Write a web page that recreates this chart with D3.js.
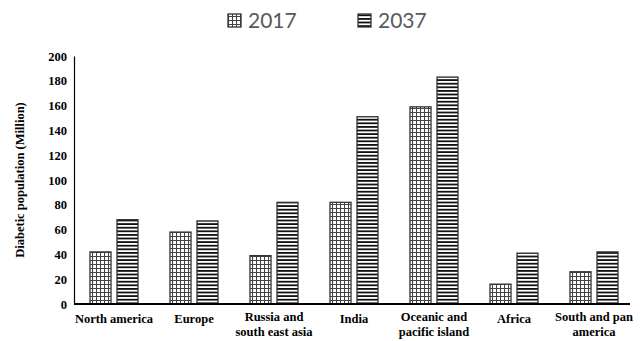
<!DOCTYPE html>
<html><head><meta charset="utf-8">
<script src="https://cdn.jsdelivr.net/npm/d3@7"></script>
<style>body{margin:0;background:#fff}svg{display:block}
.sf{font-family:"Liberation Serif","Times New Roman","Tinos","DejaVu Serif",serif;font-weight:bold;font-size:12.5px;fill:#000}
</style>
</head><body>
<svg id="c" width="640" height="341"></svg>
<script>
const categories = [["North america"],["Europe"],["Russia and","south east asia"],["India"],["Oceanic and","pacific island"],["Africa"],["South and pan","america"]];
const series = ["2017","2037"];
const values2017 = [42, 58, 39, 82, 159, 16, 26];
const values2037 = [68, 67, 82, 151, 183, 41, 42];
const yTicks = [0,20,40,60,80,100,120,140,160,180,200];
const yTitle = "Diabetic population (Million)";

const svg = d3.select("#c");
const defs = svg.append("defs");
const pg = defs.append("pattern").attr("id","grid").attr("patternUnits","userSpaceOnUse")
  .attr("width",4).attr("height",4);
pg.append("rect").attr("width",4).attr("height",4).attr("fill","#fff");
pg.append("path").attr("d","M0,0.5H4M0.5,0V4").attr("stroke","#444").attr("stroke-width",1.1);
const ph = defs.append("pattern").attr("id","hstripe").attr("patternUnits","userSpaceOnUse")
  .attr("width",4).attr("height",3.6);
ph.append("rect").attr("width",4).attr("height",3.6).attr("fill","#fff");
ph.append("rect").attr("y",0).attr("width",4).attr("height",1.8).attr("fill","#111");
const fills = {"2017":"url(#grid)","2037":"url(#hstripe)"};

const x0 = d3.scaleBand().domain(d3.range(categories.length)).range([74,634]);
const x1 = d3.scaleBand().domain(series).range([16,64]).paddingInner(0.222);
const y = d3.scaleLinear().domain([0,200]).range([304,56]);

const ya = svg.append("g").attr("transform","translate(74,0)")
  .call(d3.axisLeft(y).tickValues(yTicks).tickSize(0).tickPadding(7));
ya.attr("font-family",null).attr("font-size",null);
ya.select(".domain").attr("stroke","#000").attr("stroke-width",1.2);
ya.selectAll("text").attr("class","sf").attr("fill",null);

svg.append("text").attr("class","sf").attr("transform","translate(24,180) rotate(-90)")
  .attr("text-anchor","middle").text(yTitle);

const data = series.map((s,i)=>({s, vals: i===0?values2017:values2037}));
categories.forEach((c,ci)=>{
  data.forEach(d=>{
    svg.append("rect")
      .attr("x", x0(ci)+x1(d.s))
      .attr("y", y(d.vals[ci]))
      .attr("width", x1.bandwidth())
      .attr("height", y(0)-y(d.vals[ci]))
      .attr("fill", fills[d.s]).attr("stroke","#333").attr("stroke-width",1.3);
  });
});

const xa = svg.append("g").attr("transform","translate(0,304)")
  .call(d3.axisBottom(x0).tickSize(0).tickFormat(""));
xa.select(".domain").attr("stroke","#000").attr("stroke-width",2).attr("d","M74,0H630");
categories.forEach((c,ci)=>{
  const cx = x0(ci)+x0.bandwidth()/2;
  const t = svg.append("text").attr("class","sf").attr("x", cx).attr("y", c.length>1?321:323)
    .attr("text-anchor","middle");
  c.forEach((line,li)=>t.append("tspan").attr("x",cx).attr("dy",li?15:0).text(line));
});

const lg = [{s:"2017",x:228},{s:"2037",x:358}];
lg.forEach(l=>{
  svg.append("rect").attr("x",l.x).attr("y",14).attr("width",13).attr("height",13)
    .attr("fill",fills[l.s]).attr("stroke","#333").attr("stroke-width",1.3);
  svg.append("text").attr("x",l.x+20).attr("y",28).attr("font-family","Lato,'Open Sans',sans-serif")
    .attr("font-size",21).attr("fill","#595959").text(l.s);
});
</script>
</body></html>
